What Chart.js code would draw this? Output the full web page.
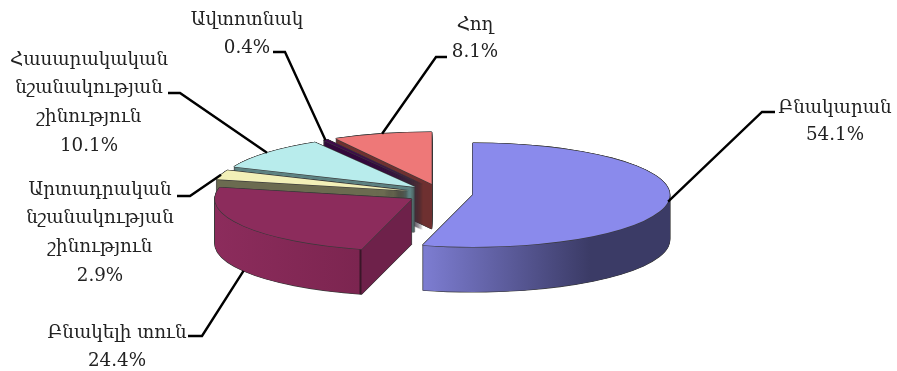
<!DOCTYPE html>
<html>
<head>
<meta charset="utf-8">
<style>
  html, body { margin: 0; padding: 0; background: #fff; }
  canvas { display: block; filter: blur(0.35px); }
</style>
<script src="https://cdn.jsdelivr.net/npm/chart.js@4"></script>
</head>
<body>
<canvas id="chart" width="897" height="371"></canvas>
<script>
// Տվյալներ
const categories = [
  ['Բնակարան'],
  ['Բնակելի տուն'],
  ['Արտադրական', 'նշանակության', 'շինություն'],
  ['Հասարակական', 'նշանակության', 'շինություն'],
  ['Ավտոտնակ'],
  ['Հող']
];
const shares = [54.1, 24.4, 2.9, 10.1, 0.4, 8.1];
const shareLabels = ['54.1%', '24.4%', '2.9%', '10.1%', '0.4%', '8.1%'];

// Styles
const topColors = ['#8a8aec', '#8c2c5c', '#f2f0b8', '#b8ecec', '#3f0c4a', '#ee7878'];
const sideStops = [
  [[423, '#7d7dd2'], [590, '#3b3b66'], [670, '#3b3b66']],
  [[214, '#8c2c5c'], [359, '#7c2550'], [360, '#3a1628'], [361, '#3a1628'], [362, '#6e214a'], [412, '#6e214a']],
  [[0, '#6b6b50'], [897, '#6b6b50']],
  [[0, '#5d8282'], [897, '#5d8282']],
  [[0, '#33083c'], [897, '#33083c']],
  [[0, '#6e3030'], [897, '#6e3030']]
];
const drawOrder = [5, 4, 3, 2, 0, 1];  // back to front

// 3D geometry
const centerX = 440, centerY = 193.7;
const rimX = 197, rimY = 52;
const explodeX = 33, explodeY = 10;
const depth = 45;
const edgeColor = '#3a3a3a';

// Label placement: text centre, first line middle, line height, leader start and elbow
const labelX = [835, 117, 100, 89, 247, 475];
const labelY = [108, 333, 190, 60, 20, 25];
const labelLine = [27, 28, 28.7, 28.7, 28, 27];
const leaderStart = [[775, 112], [188, 336], [177, 196], [168, 93], [273, 52], [447, 57]];
const leaderElbow = [[762, 112], [202, 336], [190, 196], [180, 93], [285, 52], [436, 57]];
const leaderDrop = [0, depth, 0, 0, 0, 0];

function placeArc(ctx, arc, dropY, nudgeX, nudgeY) {
  let half = (arc.startAngle + arc.endAngle) / 2;
  ctx.translate(centerX + explodeX * Math.cos(half) + nudgeX, centerY + explodeY * Math.sin(half) + dropY + nudgeY);
  ctx.scale(rimX / arc.outerRadius, rimY / arc.outerRadius);
  ctx.translate(-arc.x, -arc.y);
}

function paintArc(ctx, arc, fill, dropY, nudgeX, nudgeY) {
  let saved = arc.options;
  arc.options = Object.assign({}, saved, { backgroundColor: fill, borderWidth: 0, offset: 0, spacing: 0 });
  ctx.save();
  placeArc(ctx, arc, dropY, nudgeX, nudgeY);
  arc.draw(ctx);
  ctx.restore();
  arc.options = saved;
}

function outlineArc(ctx, arc, dropY) {
  let w = 0.6;
  paintArc(ctx, arc, edgeColor, dropY, -w, 0);
  paintArc(ctx, arc, edgeColor, dropY, w, 0);
  paintArc(ctx, arc, edgeColor, dropY, 0, -w);
  paintArc(ctx, arc, edgeColor, dropY, 0, w);
}

// gradient is given in screen x, turned into the arc's local x
function sideGradient(ctx, arc, stops) {
  let half = (arc.startAngle + arc.endAngle) / 2;
  let originX = centerX + explodeX * Math.cos(half);
  let k = rimX / arc.outerRadius;
  let x0 = stops[0][0], x1 = stops[stops.length - 1][0];
  let grad = ctx.createLinearGradient(arc.x + (x0 - originX) / k, 0, arc.x + (x1 - originX) / k, 0);
  stops.forEach(function(s) {
    grad.addColorStop((s[0] - x0) / (x1 - x0), s[1]);
  });
  return grad;
}

const pie3d = {
  id: 'pie3d',
  beforeDatasetsDraw: function(chart) {
    let ctx = chart.ctx;
    let arcs = chart.getDatasetMeta(0).data;
    drawOrder.forEach(function(i) {
      let arc = arcs[i];
      for (let d = depth; d >= 0; d--) outlineArc(ctx, arc, d);
      let side = sideGradient(ctx, arc, sideStops[i]);
      for (let d = depth; d >= 1; d--) paintArc(ctx, arc, side, d, 0, 0);
      outlineArc(ctx, arc, 0);
      paintArc(ctx, arc, topColors[i], 0, 0, 0);
    });
    return false;  // the flat pie is not wanted
  },
  afterDraw: function(chart) {
    let ctx = chart.ctx;
    let arcs = chart.getDatasetMeta(0).data;
    ctx.save();
    ctx.strokeStyle = '#000';
    ctx.lineWidth = 2.4;
    arcs.forEach(function(arc, i) {
      let half = (arc.startAngle + arc.endAngle) / 2;
      let ax = centerX + (explodeX + rimX) * Math.cos(half);
      let ay = centerY + (explodeY + rimY) * Math.sin(half) + leaderDrop[i];
      ctx.beginPath();
      ctx.moveTo(leaderStart[i][0], leaderStart[i][1]);
      ctx.lineTo(leaderElbow[i][0], leaderElbow[i][1]);
      ctx.lineTo(ax, ay);
      ctx.stroke();
    });
    ctx.fillStyle = '#222';
    ctx.textAlign = 'center';
    ctx.textBaseline = 'middle';
    categories.forEach(function(lines, i) {
      let all = lines.concat([shareLabels[i]]);
      all.forEach(function(line, n) {
        ctx.font = '18.3px "DejaVu Serif"';
        ctx.fillText(line, labelX[i], labelY[i] + n * labelLine[i]);
      });
    });
    ctx.restore();
  }
};

new Chart(document.getElementById('chart'), {
  type: 'pie',
  data: {
    labels: categories.map(function(c) { return c.join(' '); }),
    datasets: [{ data: shares, backgroundColor: topColors, borderWidth: 0 }]
  },
  options: {
    responsive: false,
    animation: false,
    events: [],
    plugins: { legend: { display: false }, tooltip: { enabled: false } }
  },
  plugins: [pie3d]
});
</script>
</body>
</html>
